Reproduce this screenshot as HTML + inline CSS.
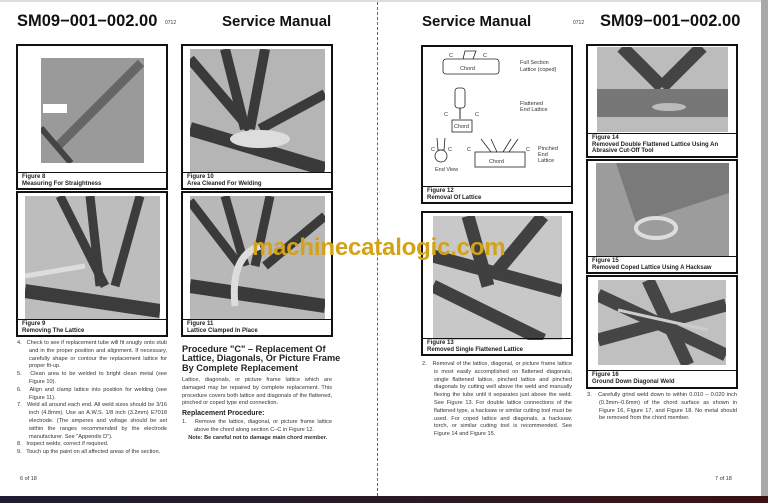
<!DOCTYPE html>
<html><head><meta charset="utf-8"><style>
*{margin:0;padding:0;box-sizing:border-box}
body{width:768px;height:503px;background:#fff;position:relative;overflow:hidden;font-family:"Liberation Sans",sans-serif;color:#222}
.a{position:absolute}
.h{font-weight:bold;font-size:15px;color:#111;white-space:nowrap}
.sm{font-size:5px;color:#333}
.box{position:absolute;border:1px solid #111;outline:0.5px solid #111}
.cap{position:absolute;left:0;right:0;bottom:0;border-top:1px solid #111;font-size:6px;font-weight:bold;line-height:6.5px;padding:1px 0 0 4px;color:#222}
.ph{position:absolute;background:#a9a9a9;overflow:hidden}
.t{position:absolute;font-size:5.6px;line-height:7.8px;color:#333;text-align:justify}
.t p{padding-left:12px;text-indent:-12px}
</style></head><body>
<div class="a" style="left:0;top:0;width:768px;height:2px;background:#ddd"></div>
<div class="a" style="left:377px;top:2px;height:494px;border-left:1px dashed #666"></div>
<div class="a" style="left:761px;top:0;width:7px;height:496px;background:#a8a8a8"></div>
<div class="a" style="left:0;top:496px;width:768px;height:7px;background:linear-gradient(90deg,#1e1c33,#2a1a26 50%,#3a1214)"></div>

<div class="a h" style="left:17px;top:12px;font-size:16.5px">SM09−001−002.00</div>
<div class="a sm" style="left:165px;top:20px">0712</div>
<div class="a h" style="left:222px;top:13px">Service Manual</div>
<div class="a h" style="left:422px;top:13px">Service Manual</div>
<div class="a sm" style="left:573px;top:20px">0712</div>
<div class="a h" style="left:600px;top:12px;font-size:16.5px">SM09−001−002.00</div>

<!-- Fig 8 -->
<div class="box" style="left:17px;top:45px;width:150px;height:144px">
<div class="ph" style="left:23px;top:12px;width:103px;height:105px;background:#9a9a9a">
<svg width="103" height="105"><line x1="100" y1="5" x2="15" y2="90" stroke="#666" stroke-width="9"/><line x1="0" y1="70" x2="30" y2="105" stroke="#444" stroke-width="6"/><rect x="2" y="46" width="24" height="9" fill="#fff"/></svg></div>
<div class="cap" style="height:16px">Figure 8<br>Measuring For Straightness</div></div>
<!-- Fig 10 -->
<div class="box" style="left:182px;top:45px;width:150px;height:144px">
<div class="ph" style="left:7px;top:3px;width:135px;height:123px;background:#b5b5b5">
<svg width="135" height="123"><g stroke="#3a3a3a" stroke-width="10"><line x1="0" y1="10" x2="60" y2="80"/><line x1="35" y1="0" x2="55" y2="80"/><line x1="75" y1="0" x2="60" y2="80"/><line x1="135" y1="45" x2="70" y2="80"/><line x1="0" y1="80" x2="135" y2="120" stroke-width="14"/></g><ellipse cx="70" cy="90" rx="30" ry="9" fill="#ddd"/></svg></div>
<div class="cap" style="height:16px">Figure 10<br>Area Cleaned For Welding</div></div>
<!-- Fig 9 -->
<div class="box" style="left:17px;top:192px;width:150px;height:144px">
<div class="ph" style="left:7px;top:3px;width:135px;height:124px;background:#bdbdbd">
<svg width="135" height="124"><g stroke="#3c3c3c" stroke-width="9"><line x1="35" y1="0" x2="80" y2="90"/><line x1="65" y1="0" x2="75" y2="90"/><line x1="115" y1="0" x2="90" y2="90"/><line x1="0" y1="95" x2="135" y2="115" stroke-width="14"/></g><line x1="0" y1="80" x2="60" y2="70" stroke="#ddd" stroke-width="5"/></svg></div>
<div class="cap" style="height:16px">Figure 9<br>Removing The Lattice</div></div>
<!-- Fig 11 -->
<div class="box" style="left:182px;top:192px;width:150px;height:144px">
<div class="ph" style="left:7px;top:3px;width:135px;height:124px;background:#b8b8b8">
<svg width="135" height="124"><g stroke="#3a3a3a" stroke-width="9"><line x1="0" y1="5" x2="50" y2="70"/><line x1="35" y1="0" x2="55" y2="70"/><line x1="80" y1="0" x2="65" y2="70"/><line x1="135" y1="20" x2="75" y2="70"/><line x1="0" y1="90" x2="135" y2="110" stroke-width="14"/></g><path d="M45 110 Q40 60 70 50" stroke="#ddd" stroke-width="7" fill="none"/></svg></div>
<div class="cap" style="height:16px">Figure 11<br>Lattice Clamped In Place</div></div>

<div class="t" style="left:17px;top:340px;width:150px">
<p>4.&nbsp;&nbsp; Check to see if replacement tube will fit snugly onto stub and in the proper position and alignment. If necessary, carefully shape or contour the replacement lattice for proper fit-up.</p>
<p>5.&nbsp;&nbsp; Clean area to be welded to bright clean metal (see Figure 10).</p>
<p>6.&nbsp;&nbsp; Align and clamp lattice into position for welding (see Figure 11).</p>
<p>7.&nbsp;&nbsp; Weld all around each end. All weld sizes should be 3/16 inch (4.8mm). Use an A.W.S. 1/8 inch (3.2mm) E7018 electrode. (The amperes and voltage should be set within the ranges recommended by the electrode manufacturer. See "Appendix D").</p>
<p>8.&nbsp;&nbsp; Inspect welds; correct if required.</p>
<p>9.&nbsp;&nbsp; Touch up the paint on all affected areas of the section.</p></div>
<div class="a sm" style="left:20px;top:476px;font-size:5.5px">6 of 18</div>

<div class="a" style="left:182px;top:345px;width:155px;font-size:9.2px;font-weight:bold;line-height:9.3px;color:#222;white-space:nowrap">Procedure "C" – Replacement Of<br>Lattice, Diagonals, Or Picture Frame<br>By Complete Replacement</div>
<div class="t" style="left:182px;top:377px;width:150px">Lattice, diagonals, or picture frame lattice which are damaged may be repaired by complete replacement. This procedure covers both lattice and diagonals of the flattened, pinched or coped type end connection.</div>
<div class="a" style="left:182px;top:410px;font-size:7px;font-weight:bold;color:#222">Replacement Procedure:</div>
<div class="t" style="left:182px;top:419px;width:150px">
<p>1.&nbsp;&nbsp; Remove the lattice, diagonal, or picture frame lattice above the chord along section C–C in Figure 12.</p>
<p style="font-weight:bold">&nbsp;&nbsp;&nbsp;&nbsp;Note: Be careful not to damage main chord member.</p></div>

<!-- Fig 12 -->
<div class="box" style="left:422px;top:46px;width:150px;height:157px;font-size:5.5px">
<div class="cap" style="height:16px">Figure 12<br>Removal Of Lattice</div>
<svg class="a" style="left:0;top:0" width="150" height="140" font-family="Liberation Sans" font-size="5.5" fill="#333">
<rect x="20" y="12" width="56" height="15" rx="3" fill="none" stroke="#222" stroke-width=".8"/><text x="37" y="23">Chord</text>
<path d="M40 12 L42 4 L53 4 L50 12" fill="none" stroke="#222" stroke-width=".8"/><text x="26" y="10">C</text><text x="60" y="10">C</text>
<text x="97" y="17">Full Section</text><text x="97" y="24">Lattice (coped)</text>
<rect x="32" y="41" width="10" height="20" rx="3" fill="none" stroke="#222" stroke-width=".8"/><line x1="37" y1="61" x2="37" y2="72" stroke="#222"/>
<rect x="29" y="73" width="20" height="12" fill="none" stroke="#222" stroke-width=".8"/><text x="31" y="81">Chord</text>
<text x="21" y="69">C</text><text x="52" y="69">C</text><text x="97" y="58">Flattened</text><text x="97" y="64">End Lattice</text>
<circle cx="18" cy="109" r="6" fill="none" stroke="#222" stroke-width=".8"/><path d="M14 91 L15 103 L21 103 L22 91" fill="none" stroke="#222" stroke-width=".8"/>
<text x="8" y="104">C</text><text x="25" y="104">C</text><text x="12" y="124">End View</text>
<rect x="52" y="105" width="50" height="15" fill="none" stroke="#222" stroke-width=".8"/><text x="66" y="116">Chord</text>
<path d="M58 92 L68 105 M68 92 L74 105 M80 105 L88 92 M86 105 L95 92" stroke="#222" stroke-width=".8"/>
<text x="44" y="104">C</text><text x="103" y="104">C</text><text x="115" y="103">Pinched</text><text x="115" y="109">End</text><text x="115" y="115">Lattice</text></svg></div>
<!-- Fig 13 -->
<div class="box" style="left:422px;top:212px;width:150px;height:143px">
<div class="ph" style="left:10px;top:3px;width:129px;height:124px;background:#c8c8c8">
<svg width="129" height="124"><g stroke="#404040" stroke-width="13"><line x1="35" y1="0" x2="55" y2="70"/><line x1="110" y1="0" x2="60" y2="60"/><line x1="0" y1="40" x2="129" y2="75"/><line x1="0" y1="70" x2="110" y2="124"/></g></svg></div>
<div class="cap" style="height:16px">Figure 13<br>Removed Single Flattened Lattice</div></div>
<div class="t" style="left:422px;top:361px;width:150px">
<p>2.&nbsp;&nbsp; Removal of the lattice, diagonal, or picture frame lattice is most easily accomplished on flattened diagonals, single flattened lattice, pinched lattice and pinched diagonals by cutting well above the weld and manually flexing the tube until it separates just above the weld. See Figure 13. For double lattice connections of the flattened type, a hacksaw or similar cutting tool must be used. For coped lattice and diagonals, a hacksaw, torch, or similar cutting tool is recommended. See Figure 14 and Figure 15.</p></div>

<!-- Fig 14 -->
<div class="box" style="left:587px;top:45px;width:150px;height:112px">
<div class="ph" style="left:9px;top:1px;width:131px;height:85px;background:#bcbcbc">
<svg width="131" height="85"><g stroke="#444" stroke-width="13"><line x1="25" y1="0" x2="65" y2="40"/><line x1="105" y1="0" x2="65" y2="40"/></g><rect x="0" y="42" width="131" height="28" fill="#777"/><ellipse cx="72" cy="60" rx="17" ry="4" fill="#bbb"/></svg></div>
<div class="cap" style="height:23px">Figure 14<br>Removed Double Flattened Lattice Using An Abrasive Cut-Off Tool</div></div>
<!-- Fig 15 -->
<div class="box" style="left:587px;top:160px;width:150px;height:113px">
<div class="ph" style="left:8px;top:2px;width:133px;height:93px;background:#9c9c9c">
<svg width="133" height="93"><path d="M20 0 L40 60 L133 30 L133 0 Z" fill="#7a7a7a"/><ellipse cx="60" cy="65" rx="20" ry="10" fill="none" stroke="#ddd" stroke-width="4"/></svg></div>
<div class="cap" style="height:16px">Figure 15<br>Removed Coped Lattice Using A Hacksaw</div></div>
<!-- Fig 16 -->
<div class="box" style="left:587px;top:276px;width:150px;height:112px">
<div class="ph" style="left:10px;top:3px;width:128px;height:85px;background:#c0c0c0">
<svg width="128" height="85"><g stroke="#454545" stroke-width="13"><line x1="0" y1="15" x2="128" y2="75"/><line x1="0" y1="60" x2="128" y2="25"/><line x1="50" y1="0" x2="90" y2="85"/></g><line x1="20" y1="30" x2="110" y2="50" stroke="#ccc" stroke-width="3"/></svg></div>
<div class="cap" style="height:17px">Figure 16<br>Ground Down Diagonal Weld</div></div>
<div class="t" style="left:587px;top:392px;width:150px">
<p>3.&nbsp;&nbsp; Carefully grind weld down to within 0.010 – 0.020 inch (0.3mm–0.6mm) of the chord surface as shown in Figure 16, Figure 17, and Figure 18. No metal should be removed from the chord member.</p></div>
<div class="a sm" style="left:715px;top:476px;font-size:5.5px">7 of 18</div>

<div class="a" style="left:252px;top:234px;font-size:24px;font-weight:bold;color:#d4a216;white-space:nowrap;letter-spacing:-0.2px">machinecatalogic.com</div>
</body></html>
